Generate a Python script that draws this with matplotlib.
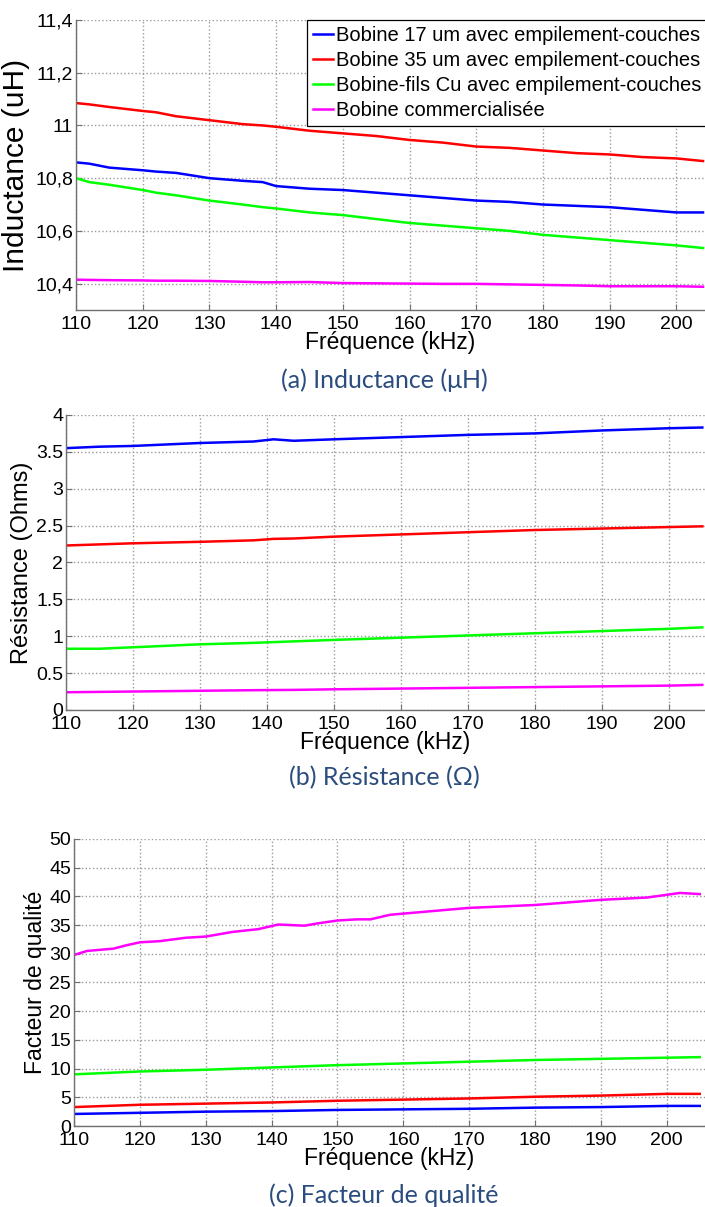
import numpy as np
import matplotlib
matplotlib.use("Agg")
import matplotlib.pyplot as plt
from matplotlib.ticker import FuncFormatter

plt.rcParams['font.family'] = ['Liberation Sans', 'DejaVu Sans']

# ── données ──────────────────────────────────────────────────────────────────
NOMS = ["Bobine 17 um avec empilement-couches",
        "Bobine 35 um avec empilement-couches",
        "Bobine-fils Cu avec empilement-couches",
        "Bobine commercialisée"]
COULEURS = ["#0000FF", "#FF0000", "#00FF00", "#FF00FF"]

# (a) inductance (uH)
f_L = [110, 112, 115, 120, 122, 125, 130, 135, 138, 140, 145, 150, 155, 160,
       165, 170, 175, 180, 185, 190, 195, 200, 204]
L_17 = [10.86, 10.855, 10.84, 10.83, 10.825, 10.82, 10.80, 10.79, 10.785, 10.77,
        10.76, 10.755, 10.745, 10.735, 10.725, 10.715, 10.71, 10.70, 10.695,
        10.69, 10.68, 10.67, 10.67]
L_35 = [11.085, 11.08, 11.07, 11.055, 11.05, 11.035, 11.02, 11.005, 11.0, 10.995,
        10.98, 10.97, 10.96, 10.945, 10.935, 10.92, 10.915, 10.905, 10.895,
        10.89, 10.88, 10.875, 10.865]
L_cu = [10.80, 10.785, 10.775, 10.755, 10.745, 10.735, 10.715, 10.70, 10.69, 10.685,
        10.67, 10.66, 10.645, 10.63, 10.62, 10.61, 10.60, 10.585, 10.575,
        10.565, 10.555, 10.545, 10.535]
L_com = [10.415, 10.414, 10.413, 10.412, 10.411, 10.411, 10.41, 10.407, 10.405, 10.405,
         10.406, 10.402, 10.401, 10.40, 10.399, 10.399, 10.397, 10.395, 10.393,
         10.39, 10.39, 10.39, 10.388]

# (b) résistance (Ohms)
f_R = [110, 115, 120, 130, 138, 141, 144, 150, 160, 170, 180, 190, 200, 205]
R_17 = [3.55, 3.57, 3.58, 3.62, 3.64, 3.67, 3.65, 3.67, 3.70, 3.73, 3.75, 3.79, 3.82, 3.83]
R_35 = [2.23, 2.245, 2.26, 2.28, 2.30, 2.32, 2.325, 2.35, 2.38, 2.41, 2.44, 2.46, 2.48, 2.49]
R_cu = [0.83, 0.83, 0.85, 0.89, 0.91, 0.92, 0.93, 0.95, 0.98, 1.01, 1.04, 1.07, 1.10, 1.12]
R_com = [0.24, 0.245, 0.25, 0.26, 0.268, 0.27, 0.272, 0.28, 0.29, 0.30, 0.31, 0.32, 0.33, 0.34]

# (c) facteur de qualité
f_Q = [110, 112, 116, 118, 120, 123, 127, 130, 134, 138, 141, 143, 145, 147, 150,
       153, 155, 158, 165, 170, 180, 190, 197, 202, 205]
Q_com = [29.8, 30.5, 30.9, 31.5, 32.0, 32.2, 32.8, 33.0, 33.8, 34.3, 35.1, 35.0, 34.9,
         35.3, 35.8, 36.0, 36.0, 36.8, 37.5, 38.0, 38.5, 39.4, 39.8, 40.6, 40.4]
f_Q2 = [110, 120, 130, 140, 150, 160, 170, 180, 190, 200, 205]
Q_cu = [9.0, 9.5, 9.8, 10.2, 10.6, 10.9, 11.2, 11.5, 11.7, 11.9, 12.0]
Q_35 = [3.3, 3.7, 3.9, 4.1, 4.4, 4.6, 4.8, 5.1, 5.3, 5.6, 5.6]
Q_17 = [2.1, 2.3, 2.5, 2.6, 2.8, 2.9, 3.0, 3.2, 3.3, 3.5, 3.5]

CAPTION_C = "#2B4C7E"
TICK_FS = 14
LABEL_FS = 16.5


def styliser(ax, xlim, ylim, yticks, ylabel, ylab_fs, fmt, ylab_pad=2):
    ax.set_xlim(*xlim)
    ax.set_ylim(*ylim)
    ax.set_xticks(np.arange(110, 201, 10))
    ax.set_yticks(yticks)
    ax.yaxis.set_major_formatter(FuncFormatter(fmt))
    ax.tick_params(direction="in", length=4, color="#707070",
                   labelsize=TICK_FS, top=False, right=False)
    ax.tick_params(axis="x", pad=4)
    ax.tick_params(axis="y", pad=2)
    ax.grid(True, color="#9A9A9A", linestyle=":", linewidth=1.0)
    for nom in ["top", "right"]:
        ax.spines[nom].set_visible(False)
    for nom in ["left", "bottom"]:
        ax.spines[nom].set_color("#707070")
        ax.spines[nom].set_linewidth(1.0)
    ax.set_xlabel("Fréquence (kHz)", fontsize=LABEL_FS, labelpad=-1)
    ax.set_ylabel(ylabel, fontsize=ylab_fs, labelpad=ylab_pad)


fig = plt.figure(figsize=(7.05, 12.07), dpi=100)
fig.patch.set_facecolor("white")

# ── (a) ──────────────────────────────────────────────────────────────────────
ax1 = fig.add_axes([0.1078, 0.7432, 1 - 0.1078, 0.2402])
for y, c, n in zip([L_17, L_35, L_cu, L_com], COULEURS, NOMS):
    ax1.plot(f_L, y, color=c, lw=1.8, label=n)
styliser(ax1, (110, 204.3), (10.3, 11.4), [10.4, 10.6, 10.8, 11.0, 11.2, 11.4],
         "Inductance (uH)", 21.5,
         lambda v, p: f"{v:g}".replace(".", ","), ylab_pad=4)
leg = ax1.legend(loc="upper left", bbox_to_anchor=(0.367, 1.0), fontsize=14.5,
                 frameon=True, fancybox=False, edgecolor="black", framealpha=1,
                 handlelength=1.0, handletextpad=0.15, labelspacing=0.3,
                 borderpad=0.3, borderaxespad=0)
leg.get_frame().set_linewidth(0.9)

# ── (b) ──────────────────────────────────────────────────────────────────────
ax2 = fig.add_axes([0.0936, 0.4118, 1 - 0.0936, 0.2444])
for y, c in zip([R_17, R_35, R_cu, R_com], COULEURS):
    ax2.plot(f_R, y, color=c, lw=1.8)
styliser(ax2, (110, 205.4), (0, 4), np.arange(0, 4.01, 0.5),
         "Résistance (Ohms)", 17, lambda v, p: f"{v:g}")

# ── (c) ──────────────────────────────────────────────────────────────────────
ax3 = fig.add_axes([0.105, 0.0671, 1 - 0.105, 0.2378])
ax3.plot(f_Q, Q_com, color=COULEURS[3], lw=1.8)
for y, c in zip([Q_17, Q_35, Q_cu], COULEURS[:3]):
    ax3.plot(f_Q2, y, color=c, lw=1.8)
styliser(ax3, (110, 205.8), (0, 50), np.arange(0, 51, 5),
         "Facteur de qualité", LABEL_FS, lambda v, p: f"{v:g}")

# ── légendes sous-figures ────────────────────────────────────────────────────
cap = dict(ha="center", va="center", color=CAPTION_C, fontsize=18,
           family=["Lato", "DejaVu Sans"])
fig.text(384 / 705, 1 - 380 / 1207, "(a) Inductance (μH)", **cap)
fig.text(384 / 705, 1 - 778 / 1207, "(b) Résistance (Ω)", **cap)
fig.text(384 / 705, 1 - 1195 / 1207, "(c) Facteur de qualité", **cap)

fig.savefig("out.png", dpi=100, facecolor="white")
